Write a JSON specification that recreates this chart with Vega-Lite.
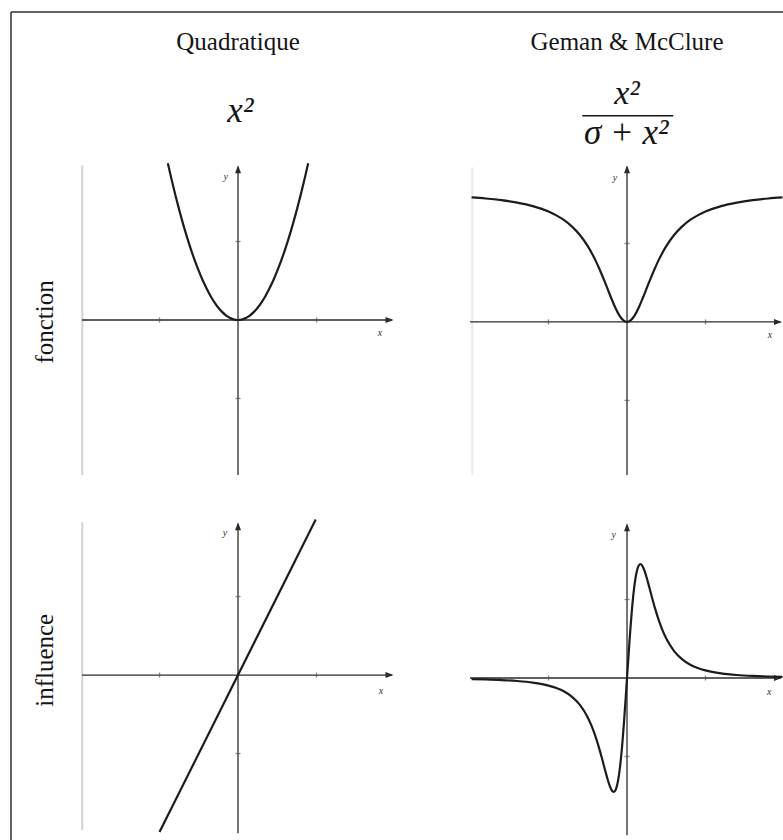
{
  "$schema": "https://vega.github.io/schema/vega-lite/v6.json",
  "background": "white",
  "padding": {"left": 10, "top": 11, "right": 0, "bottom": 0},
  "config": {"view": {"stroke": null}, "axis": {"disable": true}},
  "columns": 2,
  "spacing": {"row": 45, "column": 75},
  "bounds": "flush",
  "datasets": {
    "quad": [
      {"x": -0.894, "y": 1.998}, {"x": -0.85, "y": 1.806}, {"x": -0.8, "y": 1.6}, {"x": -0.75, "y": 1.406},
      {"x": -0.7, "y": 1.225}, {"x": -0.65, "y": 1.056}, {"x": -0.6, "y": 0.9}, {"x": -0.55, "y": 0.756},
      {"x": -0.5, "y": 0.625}, {"x": -0.45, "y": 0.506}, {"x": -0.4, "y": 0.4}, {"x": -0.35, "y": 0.306},
      {"x": -0.3, "y": 0.225}, {"x": -0.25, "y": 0.156}, {"x": -0.2, "y": 0.1}, {"x": -0.15, "y": 0.056},
      {"x": -0.1, "y": 0.025}, {"x": -0.05, "y": 0.006}, {"x": 0, "y": 0},
      {"x": 0.05, "y": 0.006}, {"x": 0.1, "y": 0.025}, {"x": 0.15, "y": 0.056}, {"x": 0.2, "y": 0.1},
      {"x": 0.25, "y": 0.156}, {"x": 0.3, "y": 0.225}, {"x": 0.35, "y": 0.306}, {"x": 0.4, "y": 0.4},
      {"x": 0.45, "y": 0.506}, {"x": 0.5, "y": 0.625}, {"x": 0.55, "y": 0.756}, {"x": 0.6, "y": 0.9},
      {"x": 0.65, "y": 1.056}, {"x": 0.7, "y": 1.225}, {"x": 0.75, "y": 1.406}, {"x": 0.8, "y": 1.6},
      {"x": 0.85, "y": 1.806}, {"x": 0.894, "y": 1.998}
    ],
    "geman": [
      {"x": -1.98, "y": 1.587}, {"x": -1.8, "y": 1.573}, {"x": -1.6, "y": 1.551}, {"x": -1.4, "y": 1.52},
      {"x": -1.2, "y": 1.476}, {"x": -1.0, "y": 1.407}, {"x": -0.9, "y": 1.358}, {"x": -0.8, "y": 1.296},
      {"x": -0.7, "y": 1.214}, {"x": -0.6, "y": 1.107}, {"x": -0.5, "y": 0.965}, {"x": -0.45, "y": 0.879},
      {"x": -0.4, "y": 0.781}, {"x": -0.35, "y": 0.672}, {"x": -0.3, "y": 0.553}, {"x": -0.25, "y": 0.428},
      {"x": -0.2, "y": 0.302}, {"x": -0.15, "y": 0.184}, {"x": -0.1, "y": 0.087}, {"x": -0.05, "y": 0.023},
      {"x": 0, "y": 0},
      {"x": 0.05, "y": 0.023}, {"x": 0.1, "y": 0.087}, {"x": 0.15, "y": 0.184}, {"x": 0.2, "y": 0.302},
      {"x": 0.25, "y": 0.428}, {"x": 0.3, "y": 0.553}, {"x": 0.35, "y": 0.672}, {"x": 0.4, "y": 0.781},
      {"x": 0.45, "y": 0.879}, {"x": 0.5, "y": 0.965}, {"x": 0.6, "y": 1.107}, {"x": 0.7, "y": 1.214},
      {"x": 0.8, "y": 1.296}, {"x": 0.9, "y": 1.358}, {"x": 1.0, "y": 1.407}, {"x": 1.2, "y": 1.476},
      {"x": 1.4, "y": 1.52}, {"x": 1.6, "y": 1.551}, {"x": 1.8, "y": 1.573}, {"x": 1.98, "y": 1.587}
    ],
    "quadInfluence": [
      {"x": -1.0, "y": -2.0}, {"x": 0.99, "y": 1.98}
    ],
    "gemanInfluence": [
      {"x": -1.98, "y": -0.0141}, {"x": -1.8, "y": -0.0185}, {"x": -1.6, "y": -0.026}, {"x": -1.4, "y": -0.0381},
      {"x": -1.2, "y": -0.0587}, {"x": -1.0, "y": -0.0965}, {"x": -0.9, "y": -0.128}, {"x": -0.8, "y": -0.173},
      {"x": -0.7, "y": -0.24}, {"x": -0.6, "y": -0.343}, {"x": -0.5, "y": -0.503}, {"x": -0.45, "y": -0.613},
      {"x": -0.4, "y": -0.749}, {"x": -0.36, "y": -0.877}, {"x": -0.32, "y": -1.02}, {"x": -0.28, "y": -1.171},
      {"x": -0.25, "y": -1.28}, {"x": -0.22, "y": -1.374}, {"x": -0.2, "y": -1.42}, {"x": -0.18, "y": -1.447},
      {"x": -0.17, "y": -1.45}, {"x": -0.16, "y": -1.446}, {"x": -0.14, "y": -1.412}, {"x": -0.12, "y": -1.338},
      {"x": -0.1, "y": -1.219}, {"x": -0.08, "y": -1.052}, {"x": -0.06, "y": -0.839}, {"x": -0.04, "y": -0.585},
      {"x": -0.02, "y": -0.301}, {"x": 0, "y": 0},
      {"x": 0.02, "y": 0.301}, {"x": 0.04, "y": 0.585}, {"x": 0.06, "y": 0.839}, {"x": 0.08, "y": 1.052},
      {"x": 0.1, "y": 1.219}, {"x": 0.12, "y": 1.338}, {"x": 0.14, "y": 1.412}, {"x": 0.16, "y": 1.446},
      {"x": 0.17, "y": 1.45}, {"x": 0.18, "y": 1.447}, {"x": 0.2, "y": 1.42}, {"x": 0.22, "y": 1.374},
      {"x": 0.25, "y": 1.28}, {"x": 0.28, "y": 1.171}, {"x": 0.32, "y": 1.02}, {"x": 0.36, "y": 0.877},
      {"x": 0.4, "y": 0.749}, {"x": 0.45, "y": 0.613}, {"x": 0.5, "y": 0.503}, {"x": 0.6, "y": 0.343},
      {"x": 0.7, "y": 0.24}, {"x": 0.8, "y": 0.173}, {"x": 0.9, "y": 0.128}, {"x": 1.0, "y": 0.0965},
      {"x": 1.2, "y": 0.0587}, {"x": 1.4, "y": 0.0381}, {"x": 1.6, "y": 0.026}, {"x": 1.8, "y": 0.0185},
      {"x": 1.98, "y": 0.0141}
    ]
  },
  "concat": [
    {
      "width": 315, "height": 106,
      "data": {"values": [{}]},
      "layer": [
        {"mark": {"type": "rule", "color": "#2e2e2e", "strokeWidth": 1.5},
         "encoding": {"x": {"datum": -2.892, "type": "quantitative", "scale": {"domain": [-2.013, 2.0]}},
                      "x2": {"datum": 6.943},
                      "y": {"datum": 1.35, "type": "quantitative", "scale": {"domain": [0, 1.35]}}}},
        {"mark": {"type": "rule", "color": "#2e2e2e", "strokeWidth": 1.5},
         "encoding": {"x": {"datum": -2.892, "type": "quantitative", "scale": {"domain": [-2.013, 2.0]}},
                      "y": {"datum": 1.35, "type": "quantitative", "scale": {"domain": [0, 1.35]}},
                      "y2": {"datum": -9.22}}},
        {"mark": {"type": "text", "text": "Quadratique", "font": "Liberation Serif", "fontSize": 25, "color": "#151515", "align": "center", "baseline": "alphabetic"},
         "encoding": {"x": {"datum": 0, "type": "quantitative", "scale": {"domain": [-2.013, 2.0]}},
                      "y": {"datum": 0.863, "type": "quantitative", "scale": {"domain": [0, 1.35]}}}},
        {"mark": {"type": "text", "text": "x²", "font": "Liberation Serif", "fontStyle": "italic", "fontSize": 35, "color": "#151515", "align": "center", "baseline": "alphabetic"},
         "encoding": {"x": {"datum": 0.03, "type": "quantitative", "scale": {"domain": [-2.013, 2.0]}},
                      "y": {"datum": -0.054, "type": "quantitative", "scale": {"domain": [0, 1.35]}}}}
      ]
    },
    {
      "width": 313, "height": 106,
      "data": {"values": [{}]},
      "layer": [
        {"mark": {"type": "text", "text": "Geman & McClure", "font": "Liberation Serif", "fontSize": 25, "color": "#151515", "align": "center", "baseline": "alphabetic"},
         "encoding": {"x": {"datum": 0, "type": "quantitative", "scale": {"domain": [-2.0, 1.987]}},
                      "y": {"datum": 0.863, "type": "quantitative", "scale": {"domain": [0, 1.35]}}}},
        {"mark": {"type": "text", "text": "x²", "font": "Liberation Serif", "fontStyle": "italic", "fontSize": 34, "color": "#151515", "align": "center", "baseline": "alphabetic"},
         "encoding": {"x": {"datum": 0, "type": "quantitative", "scale": {"domain": [-2.0, 1.987]}},
                      "y": {"datum": 0.184, "type": "quantitative", "scale": {"domain": [0, 1.35]}}}},
        {"mark": {"type": "rule", "color": "#151515", "strokeWidth": 1.6},
         "encoding": {"x": {"datum": -0.57, "type": "quantitative", "scale": {"domain": [-2.0, 1.987]}},
                      "x2": {"datum": 0.589},
                      "y": {"datum": 0.029, "type": "quantitative", "scale": {"domain": [0, 1.35]}}}},
        {"mark": {"type": "text", "text": "σ + x²", "font": "Liberation Serif", "fontStyle": "italic", "fontSize": 35, "color": "#151515", "align": "center", "baseline": "alphabetic"},
         "encoding": {"x": {"datum": -0.01, "type": "quantitative", "scale": {"domain": [-2.0, 1.987]}},
                      "y": {"datum": -0.325, "type": "quantitative", "scale": {"domain": [0, 1.35]}}}}
      ]
    },
    {
      "width": 315, "height": 312,
      "data": {"values": [{}]},
      "layer": [
        {"mark": {"type": "rule", "color": "#d4d4d4", "strokeWidth": 2},
         "encoding": {"x": {"datum": -1.984, "type": "quantitative", "scale": {"domain": [-2.013, 2.0]}},
                      "y": {"datum": 1.97, "type": "quantitative", "scale": {"domain": [-1.975, 2.0]}},
                      "y2": {"datum": -1.975}}},
        {"mark": {"type": "rule", "color": "#2b2b2b", "strokeWidth": 1.3},
         "encoding": {"x": {"datum": -1.988, "type": "quantitative", "scale": {"domain": [-2.013, 2.0]}},
                      "x2": {"datum": 1.96},
                      "y": {"datum": 0, "type": "quantitative", "scale": {"domain": [-1.975, 2.0]}}}},
        {"mark": {"type": "rule", "color": "#2b2b2b", "strokeWidth": 1.3},
         "encoding": {"x": {"datum": 0, "type": "quantitative", "scale": {"domain": [-2.013, 2.0]}},
                      "y": {"datum": -1.975, "type": "quantitative", "scale": {"domain": [-1.975, 2.0]}},
                      "y2": {"datum": 1.95}}},
        {"mark": {"type": "point", "shape": "M0,0L-0.75,2L0.75,2Z", "size": 64, "filled": true, "opacity": 1, "color": "#2b2b2b"},
         "encoding": {"x": {"datum": 0, "type": "quantitative", "scale": {"domain": [-2.013, 2.0]}},
                      "y": {"datum": 1.97, "type": "quantitative", "scale": {"domain": [-1.975, 2.0]}}}},
        {"mark": {"type": "point", "shape": "M0,0L-2,-0.75L-2,0.75Z", "size": 64, "filled": true, "opacity": 1, "color": "#2b2b2b"},
         "encoding": {"x": {"datum": 1.981, "type": "quantitative", "scale": {"domain": [-2.013, 2.0]}},
                      "y": {"datum": 0, "type": "quantitative", "scale": {"domain": [-1.975, 2.0]}}}},
        {"data": {"values": [{"t": -1}, {"t": 1}]},
         "mark": {"type": "tick", "orient": "vertical", "size": 5, "thickness": 1.3, "color": "#555"},
         "encoding": {"x": {"field": "t", "type": "quantitative", "scale": {"domain": [-2.013, 2.0]}},
                      "y": {"datum": 0, "type": "quantitative", "scale": {"domain": [-1.975, 2.0]}}}},
        {"data": {"values": [{"t": -1}, {"t": 1}]},
         "mark": {"type": "tick", "orient": "horizontal", "size": 5, "thickness": 1.3, "color": "#555"},
         "encoding": {"y": {"field": "t", "type": "quantitative", "scale": {"domain": [-1.975, 2.0]}},
                      "x": {"datum": 0, "type": "quantitative", "scale": {"domain": [-2.013, 2.0]}}}},
        {"mark": {"type": "text", "text": "y", "font": "Liberation Serif", "fontStyle": "italic", "fontSize": 10, "color": "#333", "align": "center", "baseline": "middle"},
         "encoding": {"x": {"datum": -0.157, "type": "quantitative", "scale": {"domain": [-2.013, 2.0]}},
                      "y": {"datum": 1.825, "type": "quantitative", "scale": {"domain": [-1.975, 2.0]}}}},
        {"mark": {"type": "text", "text": "x", "font": "Liberation Serif", "fontStyle": "italic", "fontSize": 10, "color": "#333", "align": "center", "baseline": "middle"},
         "encoding": {"x": {"datum": 1.81, "type": "quantitative", "scale": {"domain": [-2.013, 2.0]}},
                      "y": {"datum": -0.166, "type": "quantitative", "scale": {"domain": [-1.975, 2.0]}}}},
        {"mark": {"type": "text", "text": "fonction", "font": "Liberation Serif", "fontSize": 25, "angle": 270, "color": "#151515", "align": "center", "baseline": "alphabetic"},
         "encoding": {"x": {"datum": -2.354, "type": "quantitative", "scale": {"domain": [-2.013, 2.0]}},
                      "y": {"datum": -0.025, "type": "quantitative", "scale": {"domain": [-1.975, 2.0]}}}},
        {"data": {"name": "quad"},
         "mark": {"type": "line", "color": "#1c1c1c", "strokeWidth": 2.2, "interpolate": "monotone"},
         "encoding": {"x": {"field": "x", "type": "quantitative", "scale": {"domain": [-2.013, 2.0]}},
                      "y": {"field": "y", "type": "quantitative", "scale": {"domain": [-1.975, 2.0]}}}}
      ]
    },
    {
      "width": 313, "height": 312,
      "data": {"values": [{}]},
      "layer": [
        {"mark": {"type": "rule", "color": "#ececec", "strokeWidth": 2},
         "encoding": {"x": {"datum": -1.971, "type": "quantitative", "scale": {"domain": [-2.0, 1.987]}},
                      "y": {"datum": 1.97, "type": "quantitative", "scale": {"domain": [-1.95, 2.025]}},
                      "y2": {"datum": -1.95}}},
        {"mark": {"type": "rule", "color": "#2b2b2b", "strokeWidth": 1.3},
         "encoding": {"x": {"datum": -2.0, "type": "quantitative", "scale": {"domain": [-2.0, 1.987]}},
                      "x2": {"datum": 1.955},
                      "y": {"datum": 0, "type": "quantitative", "scale": {"domain": [-1.95, 2.025]}}}},
        {"mark": {"type": "rule", "color": "#2b2b2b", "strokeWidth": 1.3},
         "encoding": {"x": {"datum": 0, "type": "quantitative", "scale": {"domain": [-2.0, 1.987]}},
                      "y": {"datum": -1.95, "type": "quantitative", "scale": {"domain": [-1.95, 2.025]}},
                      "y2": {"datum": 1.975}}},
        {"mark": {"type": "point", "shape": "M0,0L-0.75,2L0.75,2Z", "size": 64, "filled": true, "opacity": 1, "color": "#2b2b2b"},
         "encoding": {"x": {"datum": 0, "type": "quantitative", "scale": {"domain": [-2.0, 1.987]}},
                      "y": {"datum": 1.996, "type": "quantitative", "scale": {"domain": [-1.95, 2.025]}}}},
        {"mark": {"type": "point", "shape": "M0,0L-2,-0.75L-2,0.75Z", "size": 64, "filled": true, "opacity": 1, "color": "#2b2b2b"},
         "encoding": {"x": {"datum": 1.974, "type": "quantitative", "scale": {"domain": [-2.0, 1.987]}},
                      "y": {"datum": 0, "type": "quantitative", "scale": {"domain": [-1.95, 2.025]}}}},
        {"data": {"values": [{"t": -1}, {"t": 1}]},
         "mark": {"type": "tick", "orient": "vertical", "size": 5, "thickness": 1.3, "color": "#555"},
         "encoding": {"x": {"field": "t", "type": "quantitative", "scale": {"domain": [-2.0, 1.987]}},
                      "y": {"datum": 0, "type": "quantitative", "scale": {"domain": [-1.95, 2.025]}}}},
        {"data": {"values": [{"t": -1}, {"t": 1}]},
         "mark": {"type": "tick", "orient": "horizontal", "size": 5, "thickness": 1.3, "color": "#555"},
         "encoding": {"y": {"field": "t", "type": "quantitative", "scale": {"domain": [-1.95, 2.025]}},
                      "x": {"datum": 0, "type": "quantitative", "scale": {"domain": [-2.0, 1.987]}}}},
        {"mark": {"type": "text", "text": "y", "font": "Liberation Serif", "fontStyle": "italic", "fontSize": 10, "color": "#333", "align": "center", "baseline": "middle"},
         "encoding": {"x": {"datum": -0.153, "type": "quantitative", "scale": {"domain": [-2.0, 1.987]}},
                      "y": {"datum": 1.83, "type": "quantitative", "scale": {"domain": [-1.95, 2.025]}}}},
        {"mark": {"type": "text", "text": "x", "font": "Liberation Serif", "fontStyle": "italic", "fontSize": 10, "color": "#333", "align": "center", "baseline": "middle"},
         "encoding": {"x": {"datum": 1.82, "type": "quantitative", "scale": {"domain": [-2.0, 1.987]}},
                      "y": {"datum": -0.166, "type": "quantitative", "scale": {"domain": [-1.95, 2.025]}}}},
        {"data": {"name": "geman"},
         "mark": {"type": "line", "color": "#1c1c1c", "strokeWidth": 2.2, "interpolate": "monotone"},
         "encoding": {"x": {"field": "x", "type": "quantitative", "scale": {"domain": [-2.0, 1.987]}},
                      "y": {"field": "y", "type": "quantitative", "scale": {"domain": [-1.95, 2.025]}}}}
      ]
    },
    {
      "width": 315, "height": 316,
      "data": {"values": [{}]},
      "layer": [
        {"mark": {"type": "rule", "color": "#d4d4d4", "strokeWidth": 2},
         "encoding": {"x": {"datum": -1.984, "type": "quantitative", "scale": {"domain": [-2.013, 2.0]}},
                      "y": {"datum": 1.946, "type": "quantitative", "scale": {"domain": [-2.05, 1.975]}},
                      "y2": {"datum": -1.977}}},
        {"mark": {"type": "rule", "color": "#2b2b2b", "strokeWidth": 1.3},
         "encoding": {"x": {"datum": -1.988, "type": "quantitative", "scale": {"domain": [-2.013, 2.0]}},
                      "x2": {"datum": 1.96},
                      "y": {"datum": 0, "type": "quantitative", "scale": {"domain": [-2.05, 1.975]}}}},
        {"mark": {"type": "rule", "color": "#2b2b2b", "strokeWidth": 1.3},
         "encoding": {"x": {"datum": 0, "type": "quantitative", "scale": {"domain": [-2.013, 2.0]}},
                      "y": {"datum": -2.015, "type": "quantitative", "scale": {"domain": [-2.05, 1.975]}},
                      "y2": {"datum": 1.925}}},
        {"mark": {"type": "point", "shape": "M0,0L-0.75,2L0.75,2Z", "size": 64, "filled": true, "opacity": 1, "color": "#2b2b2b"},
         "encoding": {"x": {"datum": 0, "type": "quantitative", "scale": {"domain": [-2.013, 2.0]}},
                      "y": {"datum": 1.946, "type": "quantitative", "scale": {"domain": [-2.05, 1.975]}}}},
        {"mark": {"type": "point", "shape": "M0,0L-2,-0.75L-2,0.75Z", "size": 64, "filled": true, "opacity": 1, "color": "#2b2b2b"},
         "encoding": {"x": {"datum": 1.981, "type": "quantitative", "scale": {"domain": [-2.013, 2.0]}},
                      "y": {"datum": 0, "type": "quantitative", "scale": {"domain": [-2.05, 1.975]}}}},
        {"data": {"values": [{"t": -1}, {"t": 1}]},
         "mark": {"type": "tick", "orient": "vertical", "size": 5, "thickness": 1.3, "color": "#555"},
         "encoding": {"x": {"field": "t", "type": "quantitative", "scale": {"domain": [-2.013, 2.0]}},
                      "y": {"datum": 0, "type": "quantitative", "scale": {"domain": [-2.05, 1.975]}}}},
        {"data": {"values": [{"t": -1}, {"t": 1}]},
         "mark": {"type": "tick", "orient": "horizontal", "size": 5, "thickness": 1.3, "color": "#555"},
         "encoding": {"y": {"field": "t", "type": "quantitative", "scale": {"domain": [-2.05, 1.975]}},
                      "x": {"datum": 0, "type": "quantitative", "scale": {"domain": [-2.013, 2.0]}}}},
        {"mark": {"type": "text", "text": "y", "font": "Liberation Serif", "fontStyle": "italic", "fontSize": 10, "color": "#333", "align": "center", "baseline": "middle"},
         "encoding": {"x": {"datum": -0.166, "type": "quantitative", "scale": {"domain": [-2.013, 2.0]}},
                      "y": {"datum": 1.81, "type": "quantitative", "scale": {"domain": [-2.05, 1.975]}}}},
        {"mark": {"type": "text", "text": "x", "font": "Liberation Serif", "fontStyle": "italic", "fontSize": 10, "color": "#333", "align": "center", "baseline": "middle"},
         "encoding": {"x": {"datum": 1.82, "type": "quantitative", "scale": {"domain": [-2.013, 2.0]}},
                      "y": {"datum": -0.204, "type": "quantitative", "scale": {"domain": [-2.05, 1.975]}}}},
        {"mark": {"type": "text", "text": "influence", "font": "Liberation Serif", "fontSize": 25, "angle": 270, "color": "#151515", "align": "center", "baseline": "alphabetic"},
         "encoding": {"x": {"datum": -2.354, "type": "quantitative", "scale": {"domain": [-2.013, 2.0]}},
                      "y": {"datum": 0.188, "type": "quantitative", "scale": {"domain": [-2.05, 1.975]}}}},
        {"data": {"name": "quadInfluence"},
         "mark": {"type": "line", "color": "#1c1c1c", "strokeWidth": 2.2},
         "encoding": {"x": {"field": "x", "type": "quantitative", "scale": {"domain": [-2.013, 2.0]}},
                      "y": {"field": "y", "type": "quantitative", "scale": {"domain": [-2.05, 1.975]}}}}
      ]
    },
    {
      "width": 313, "height": 316,
      "data": {"values": [{}]},
      "layer": [
        {"mark": {"type": "rule", "color": "#2b2b2b", "strokeWidth": 1.3},
         "encoding": {"x": {"datum": -2.0, "type": "quantitative", "scale": {"domain": [-2.0, 1.987]}},
                      "x2": {"datum": 1.955},
                      "y": {"datum": 0, "type": "quantitative", "scale": {"domain": [-2.013, 2.013]}}}},
        {"mark": {"type": "rule", "color": "#2b2b2b", "strokeWidth": 1.3},
         "encoding": {"x": {"datum": 0, "type": "quantitative", "scale": {"domain": [-2.0, 1.987]}},
                      "y": {"datum": -2.003, "type": "quantitative", "scale": {"domain": [-2.013, 2.013]}},
                      "y2": {"datum": 1.95}}},
        {"mark": {"type": "point", "shape": "M0,0L-0.75,2L0.75,2Z", "size": 64, "filled": true, "opacity": 1, "color": "#2b2b2b"},
         "encoding": {"x": {"datum": 0, "type": "quantitative", "scale": {"domain": [-2.0, 1.987]}},
                      "y": {"datum": 1.972, "type": "quantitative", "scale": {"domain": [-2.013, 2.013]}}}},
        {"mark": {"type": "point", "shape": "M0,0L-2,-0.75L-2,0.75Z", "size": 64, "filled": true, "opacity": 1, "color": "#2b2b2b"},
         "encoding": {"x": {"datum": 1.974, "type": "quantitative", "scale": {"domain": [-2.0, 1.987]}},
                      "y": {"datum": 0, "type": "quantitative", "scale": {"domain": [-2.013, 2.013]}}}},
        {"data": {"values": [{"t": -1}, {"t": 1}]},
         "mark": {"type": "tick", "orient": "vertical", "size": 5, "thickness": 1.3, "color": "#555"},
         "encoding": {"x": {"field": "t", "type": "quantitative", "scale": {"domain": [-2.0, 1.987]}},
                      "y": {"datum": 0, "type": "quantitative", "scale": {"domain": [-2.013, 2.013]}}}},
        {"data": {"values": [{"t": -1}, {"t": 1}]},
         "mark": {"type": "tick", "orient": "horizontal", "size": 5, "thickness": 1.3, "color": "#555"},
         "encoding": {"y": {"field": "t", "type": "quantitative", "scale": {"domain": [-2.013, 2.013]}},
                      "x": {"datum": 0, "type": "quantitative", "scale": {"domain": [-2.0, 1.987]}}}},
        {"mark": {"type": "text", "text": "y", "font": "Liberation Serif", "fontStyle": "italic", "fontSize": 10, "color": "#333", "align": "center", "baseline": "middle"},
         "encoding": {"x": {"datum": -0.17, "type": "quantitative", "scale": {"domain": [-2.0, 1.987]}},
                      "y": {"datum": 1.82, "type": "quantitative", "scale": {"domain": [-2.013, 2.013]}}}},
        {"mark": {"type": "text", "text": "x", "font": "Liberation Serif", "fontStyle": "italic", "fontSize": 10, "color": "#333", "align": "center", "baseline": "middle"},
         "encoding": {"x": {"datum": 1.81, "type": "quantitative", "scale": {"domain": [-2.0, 1.987]}},
                      "y": {"datum": -0.175, "type": "quantitative", "scale": {"domain": [-2.013, 2.013]}}}},
        {"data": {"name": "gemanInfluence"},
         "mark": {"type": "line", "color": "#1c1c1c", "strokeWidth": 2.2, "interpolate": "monotone"},
         "encoding": {"x": {"field": "x", "type": "quantitative", "scale": {"domain": [-2.0, 1.987]}},
                      "y": {"field": "y", "type": "quantitative", "scale": {"domain": [-2.013, 2.013]}}}}
      ]
    }
  ]
}
